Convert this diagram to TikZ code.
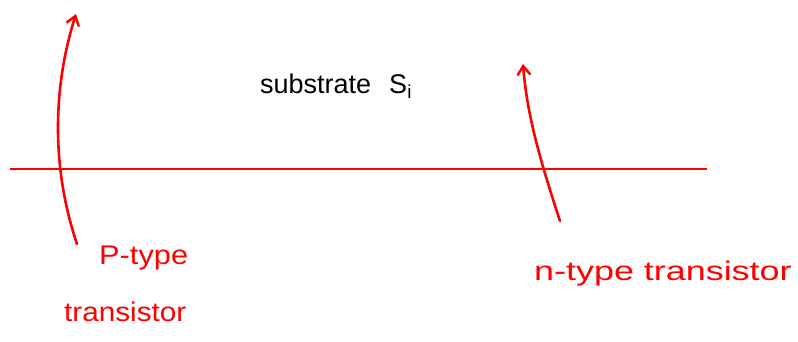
\documentclass[tikz,border=0pt]{standalone}
\usepackage{fontspec}
\setmainfont{Liberation Sans}
\usetikzlibrary{arrows.meta}
\tikzset{
  redlbl/.style={text=red, font=\fontsize{27}{30}\selectfont, inner sep=0pt, anchor=west},
  blklbl/.style={text=black, font=\fontsize{27}{30}\selectfont, inner sep=0pt, anchor=west},
  redarrow/.style={draw=red, line width=2.6pt, line cap=round, -{Straight Barb[length=9pt,width=13pt,line width=2.4pt]}},
  baseline/.style={draw=red, line width=1.6pt}
}
\begin{document}
\begin{tikzpicture}[x=1pt,y=-1pt]
\useasboundingbox (0,0) rectangle (798,341);
% substrate line
\coordinate (lineL) at (10,169);
\coordinate (lineR) at (707,169);
\draw[baseline] (lineL) -- (lineR);
% labels
\node[blklbl] (sub) at (260,86) {substrate\hspace{18pt}S\textsubscript{i}};
\node[redlbl] (ptype) at (99,258) {\scalebox{1.14}[1]{P-type}};
\node[redlbl] (ptrans) at (64,312) {\scalebox{1.1}[1]{transistor}};
\node[redlbl] (ntype) at (534,274) {\scalebox{1.33}[1]{n-type transistor}};
% arrows
\coordinate (pstart) at (77,244);
\coordinate (pend) at (76,14);
\coordinate (nstart) at (560,221);
\coordinate (nend) at (523,64);
\draw[redarrow] (pstart) .. controls (52,170) and (52,90) .. (pend);
\draw[redarrow] (nstart) .. controls (540,160) and (527,115) .. (nend);
\end{tikzpicture}
\end{document}
